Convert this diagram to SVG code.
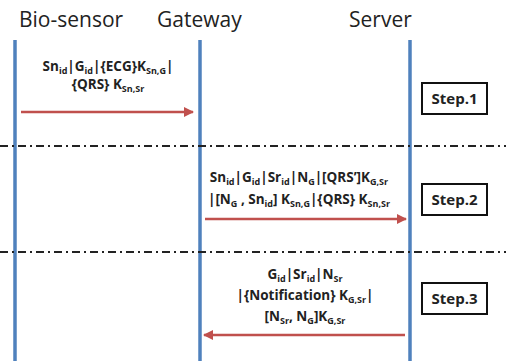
<svg xmlns="http://www.w3.org/2000/svg" width="506" height="361" viewBox="0 0 506 361">
<defs>
<marker id="ah" viewBox="0 0 10 10" refX="9" refY="5" markerWidth="4" markerHeight="4" orient="auto-start-reverse" markerUnits="strokeWidth">
<path d="M0,0 L10,5 L0,10 z" fill="#c0504d"/>
</marker>
<style>
.hdr{font-family:"Open Sans","Liberation Sans",sans-serif;font-size:21px;fill:#222}
.life{stroke:#4f81bd;stroke-width:3.5;fill:none}
.sep{stroke:#222;stroke-width:2;stroke-dasharray:8 4 2 4;fill:none}
.msg{stroke:#c0504d;stroke-width:2.5;fill:none;marker-end:url(#ah)}
.lbl{font-family:"Open Sans","Liberation Sans",sans-serif;font-size:13.5px;font-weight:bold;fill:#222;text-anchor:middle}
.sub{font-size:9px}
.box{fill:#fff;stroke:#111;stroke-width:2}
.step{font-family:"Open Sans","Liberation Sans",sans-serif;font-size:15px;font-weight:bold;fill:#222;text-anchor:middle}
</style>
</defs>
<g id="bio-sensor">
<text class="hdr" x="19" y="27">Bio-sensor</text>
<line class="life" x1="15" y1="40" x2="15" y2="361"/>
</g>
<g id="gateway">
<text class="hdr" x="157" y="27">Gateway</text>
<line class="life" x1="200" y1="40" x2="200" y2="361"/>
</g>
<g id="server">
<text class="hdr" x="349" y="27">Server</text>
<line class="life" x1="410" y1="40" x2="410" y2="361"/>
</g>
<g id="separators">
<line class="sep" x1="0" y1="146" x2="506" y2="146"/>
<line class="sep" x1="0" y1="252" x2="506" y2="252"/>
</g>
<g id="step1">
<rect class="box" x="422" y="83" width="65" height="31"/>
<text class="step" x="454.5" y="104">Step.1</text>
</g>
<g id="step2">
<rect class="box" x="422" y="184" width="65" height="31"/>
<text class="step" x="454.5" y="205">Step.2</text>
</g>
<g id="step3">
<rect class="box" x="422" y="283" width="65" height="31"/>
<text class="step" x="454.5" y="304">Step.3</text>
</g>
<g id="connectors">
<line class="msg" x1="21" y1="112" x2="193" y2="112"/>
<line class="msg" x1="205" y1="219" x2="406" y2="219"/>
<line class="msg" x1="405" y1="335" x2="204" y2="335"/>
</g>
<g id="labels">
<text class="lbl" x="108" y="71">Sn<tspan class="sub" dy="2.5">id</tspan><tspan dy="-2.5">|G</tspan><tspan class="sub" dy="2.5">id</tspan><tspan dy="-2.5">|{ECG}K</tspan><tspan class="sub" dy="2.5">Sn,G</tspan><tspan dy="-2.5">|</tspan></text>
<text class="lbl" x="108" y="89">{QRS} K<tspan class="sub" dy="2.5">Sn,Sr</tspan></text>
<text class="lbl" x="299" y="182">Sn<tspan class="sub" dy="2.5">id</tspan><tspan dy="-2.5">|G</tspan><tspan class="sub" dy="2.5">id</tspan><tspan dy="-2.5">|Sr</tspan><tspan class="sub" dy="2.5">id</tspan><tspan dy="-2.5">|N</tspan><tspan class="sub" dy="2.5">G</tspan><tspan dy="-2.5">|[QRS’]K</tspan><tspan class="sub" dy="2.5">G,Sr</tspan></text>
<text class="lbl" x="299" y="204">|[N<tspan class="sub" dy="2.5">G</tspan><tspan dy="-2.5"> , Sn</tspan><tspan class="sub" dy="2.5">id</tspan><tspan dy="-2.5">] K</tspan><tspan class="sub" dy="2.5">Sn,G</tspan><tspan dy="-2.5">|{QRS} K</tspan><tspan class="sub" dy="2.5">Sn,Sr</tspan></text>
<text class="lbl" x="305" y="279">G<tspan class="sub" dy="2.5">id</tspan><tspan dy="-2.5">|Sr</tspan><tspan class="sub" dy="2.5">id</tspan><tspan dy="-2.5">|N</tspan><tspan class="sub" dy="2.5">Sr</tspan></text>
<text class="lbl" x="305" y="300">|{Notification} K<tspan class="sub" dy="2.5">G,Sr</tspan><tspan dy="-2.5">|</tspan></text>
<text class="lbl" x="305" y="321">[N<tspan class="sub" dy="2.5">Sr</tspan><tspan dy="-2.5">, N</tspan><tspan class="sub" dy="2.5">G</tspan><tspan dy="-2.5">]K</tspan><tspan class="sub" dy="2.5">G,Sr</tspan></text>
</g>
</svg>
